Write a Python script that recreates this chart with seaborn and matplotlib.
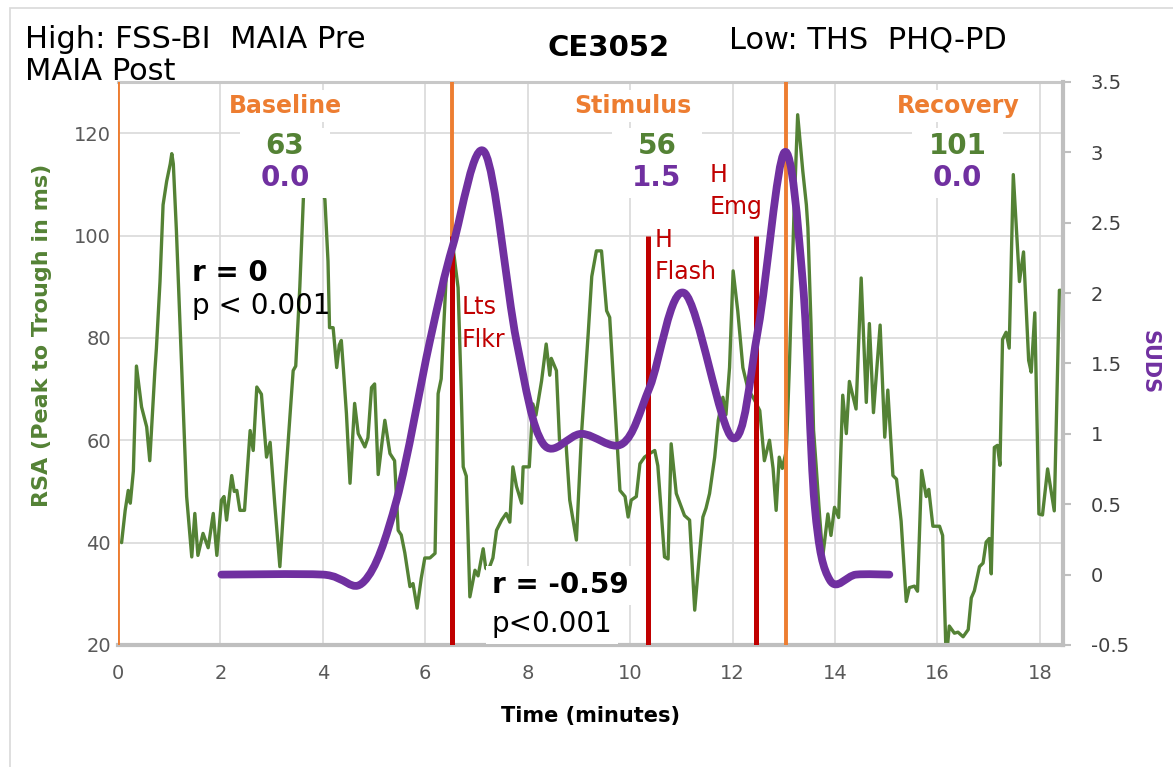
import numpy as np
import pandas as pd
import matplotlib
matplotlib.use("Agg")
import matplotlib.pyplot as plt
from matplotlib.path import Path
from matplotlib.patches import PathPatch, Rectangle
import seaborn as sns

# ---------------------------------------------------------------- data
# RSA, peak to trough (ms), over the session (minutes)
rsa_time = [0.07, 0.14, 0.2, 0.24, 0.3, 0.36, 0.46, 0.56, 0.62, 0.72, 0.75, 0.82,
            0.88, 0.95, 1.02, 1.05, 1.08, 1.14, 1.24, 1.34, 1.44, 1.5, 1.56, 1.66,
            1.76, 1.86, 1.93, 2.02, 2.07, 2.12, 2.22, 2.27, 2.32, 2.38, 2.47, 2.58,
            2.64, 2.71, 2.8, 2.9, 2.97, 3.06, 3.16, 3.26, 3.42, 3.47, 3.55, 3.62,
            3.75, 3.9, 4.04, 4.1, 4.13, 4.2, 4.27, 4.32, 4.36, 4.4, 4.46, 4.53,
            4.62, 4.69, 4.82, 4.88, 4.95, 5.01, 5.08, 5.16, 5.21, 5.31, 5.4, 5.47,
            5.53, 5.6, 5.7, 5.76, 5.84, 5.92, 5.99, 6.09, 6.19, 6.25, 6.31, 6.41,
            6.48, 6.55, 6.64, 6.7, 6.74, 6.8, 6.87, 6.97, 7.03, 7.13, 7.18, 7.23,
            7.32, 7.39, 7.49, 7.58, 7.65, 7.71, 7.78, 7.88, 7.91, 8.03, 8.1, 8.16,
            8.27, 8.36, 8.43, 8.46, 8.56, 8.62, 8.75, 8.82, 8.95, 9.05, 9.18, 9.25,
            9.34, 9.44, 9.54, 9.6, 9.8, 9.9, 9.96, 10.02, 10.12, 10.19, 10.28, 10.38,
            10.48, 10.54, 10.67, 10.74, 10.8, 10.9, 10.96, 11.06, 11.16, 11.26, 11.36, 11.42,
            11.48, 11.55, 11.65, 11.72, 11.81, 11.87, 11.94, 12.01, 12.1, 12.2, 12.3, 12.42,
            12.53, 12.62, 12.72, 12.79, 12.85, 12.91, 12.97, 13.05, 13.11, 13.2, 13.27, 13.37,
            13.44, 13.47, 13.53, 13.58, 13.63, 13.7, 13.76, 13.86, 13.92, 13.99, 14.07, 14.15,
            14.22, 14.28, 14.41, 14.51, 14.61, 14.67, 14.75, 14.88, 14.97, 15.03, 15.13, 15.2,
            15.29, 15.39, 15.45, 15.55, 15.61, 15.69, 15.78, 15.83, 15.91, 16.04, 16.1, 16.17,
            16.23, 16.33, 16.4, 16.5, 16.6, 16.66, 16.72, 16.82, 16.89, 16.95, 17.01, 17.05,
            17.11, 17.17, 17.22, 17.27, 17.34, 17.4, 17.48, 17.6, 17.68, 17.78, 17.83, 17.9,
            17.98, 18.05, 18.15, 18.28, 18.38, 18.44]
rsa_value = [40, 46.3, 50.2, 47.7, 54, 74.5, 66.5, 62.6, 56, 73.6, 78, 91,
             106, 110.6, 114, 116, 114, 101, 75, 49, 37.2, 45.7, 37.5, 41.8,
             39, 45.7, 37.5, 48.3, 49, 44.4, 53.1, 50, 50.2, 46.3, 46.3, 61.9,
             58, 70.4, 69, 56.7, 59.6, 47.6, 35.3, 50.9, 73.6, 74.5, 90, 107.4,
             117, 113, 107, 95, 82, 82, 74.2, 78.6, 79.5, 74, 65.2, 51.6,
             67.2, 61.3, 58.7, 60.5, 70.3, 71, 53.3, 60, 63.9, 57.4, 56, 42.4,
             41.5, 38, 31.4, 32, 27.2, 33, 37, 37, 37.9, 69.1, 72, 92.5,
             95, 97, 89.8, 70, 54.8, 53, 29.4, 34.6, 33.5, 38.8, 35, 34.6,
             37, 42.4, 44.4, 45.7, 44, 54.8, 51, 47.7, 54.8, 54.8, 67.1, 64.9,
             71.6, 78.8, 72.7, 76, 73.6, 60, 59, 48.3, 40.5, 61.3, 80.8, 92,
             97, 97, 85.3, 84, 50.2, 49, 45, 48.3, 49, 55.4, 56.7, 57.4,
             58, 55, 37.2, 36.8, 59.3, 49.6, 48, 45.3, 44.4, 26.8, 38.5, 45,
             46.7, 49.6, 56.7, 63.9, 68.4, 65, 74.2, 93.1, 85.3, 74.2, 70, 68,
             65.8, 56, 60, 54.5, 46.3, 56.7, 54.5, 58, 75, 105, 123.6, 112.6,
             106, 101.5, 82.8, 62, 55.1, 45, 37.3, 45.6, 41.4, 46.9, 44.9, 68.8,
             61.3, 71.5, 66.1, 91.7, 67.4, 82.8, 65.4, 82.5, 60.6, 69.8, 53.1, 52.4,
             44.2, 28.5, 31.2, 31.5, 30.5, 54.1, 49, 50.4, 43.2, 43.2, 41.4, 17,
             23.7, 22.3, 22.5, 21.6, 23, 29.2, 30.6, 35.3, 36, 40.1, 40.8, 33.9,
             58.6, 59, 55.1, 79.7, 81.1, 78, 111.9, 91, 96.8, 75.6, 73.3, 84.9,
             45.6, 45.4, 54.4, 46.2, 89.3, 89.3]

# SUDS ratings (drawn as a smoothed line)
suds_time = [2.02, 4.0, 4.8, 5.44, 6.09, 6.54, 7.16, 7.78, 8.3, 9.05, 9.85,
             10.38, 11.06, 12.0, 12.5, 13.01, 13.37, 13.6, 13.9, 14.41, 15.06]
suds_value = [0.0, 0.0, -0.05, 0.53, 1.66, 2.34, 3.0, 1.66, 0.93, 1.0, 0.93,
              1.33, 2.0, 0.97, 1.75, 3.0, 2.08, 0.5, -0.04, 0.0, 0.0]

# session phases and their summary values
phase_starts = [0.0, 6.53, 13.05]
phase_names = ["Baseline", "Stimulus", "Recovery"]
phase_rsa_mean = ["63", "56", "101"]
phase_suds_mean = ["0.0", "1.5", "0.0"]

# stimulus events
event_times = [6.53, 10.35, 12.46]
event_labels = ["Lts\nFlkr", "H\nFlash", "H\nEmg"]
event_height = 100

x_ticks = [0, 2, 4, 6, 8, 10, 12, 14, 16, 18]
rsa_ticks = [20, 40, 60, 80, 100, 120]
suds_ticks = [-0.5, 0, 0.5, 1, 1.5, 2, 2.5, 3, 3.5]
suds_tick_labels = ["-0.5", "0", "0.5", "1", "1.5", "2", "2.5", "3", "3.5"]

# ---------------------------------------------------------------- style
GREEN = "#548235"
PURPLE = "#7030A0"
ORANGE = "#ED7D31"
RED = "#C00000"
GRID = "#D9D9D9"
AXIS = "#BFBFBF"

sns.set_theme(style="white")
plt.rcParams["font.family"] = ["DejaVu Sans"]
plt.rcParams["text.color"] = "black"

fig = plt.figure(figsize=(11.73, 7.67), dpi=100)
ax = fig.add_axes([0.1006, 0.1591, 0.8056, 0.734])
ax2 = ax.twinx()

ax.set_xlim(0, 18.45)
ax.set_ylim(20, 130)
ax2.set_ylim(-0.5, 3.5)

# gridlines
ax.set_xticks(x_ticks)
ax.set_yticks(rsa_ticks)
ax.grid(True, color=GRID, lw=1.2)
ax.set_axisbelow(True)
ax2.grid(False)

# RSA series
rsa_df = pd.DataFrame({"time": rsa_time, "rsa": rsa_value})
sns.lineplot(data=rsa_df, x="time", y="rsa", ax=ax, color=GREEN, lw=2.4,
             estimator=None, sort=False, zorder=2)

# phase boundaries and event markers
for t in phase_starts:
    ax.axvline(t, color=ORANGE, lw=2.8, zorder=3)
ax.vlines(event_times, 20, event_height, color=RED, lw=3.6, zorder=4)

# SUDS smoothed line as cubic Bezier segments through the ratings
pts = np.column_stack([suds_time, suds_value])
n = len(pts)
verts = [tuple(pts[0])]
codes = [Path.MOVETO]
for i in range(n - 1):
    p0 = pts[max(i - 1, 0)]
    p1 = pts[i]
    p2 = pts[i + 1]
    p3 = pts[min(i + 2, n - 1)]
    c1 = p1 + (p2 - p0) / 6.0
    c2 = p2 - (p3 - p1) / 6.0
    verts += [tuple(c1), tuple(c2), tuple(p2)]
    codes += [Path.CURVE4] * 3
suds_patch = PathPatch(Path(verts, codes), transform=ax2.transData, fill=False,
                       edgecolor=PURPLE, lw=5.6, capstyle="round",
                       joinstyle="round", zorder=5)
ax2.add_patch(suds_patch)

# ---------------------------------------------------------------- axes
ax.tick_params(axis="x", length=0, pad=14, labelsize=14, labelcolor="#595959")
ax.tick_params(axis="y", length=0, pad=5, labelsize=14, labelcolor="#595959")
ax2.set_yticks(suds_ticks)
ax2.set_yticklabels(suds_tick_labels)
ax2.tick_params(axis="y", length=6, width=1.5, color=AXIS, pad=14,
                labelsize=14, labelcolor="#404040")

for side in ["left", "right"]:
    ax.spines[side].set_visible(False)
for side in ["left", "top", "bottom"]:
    ax2.spines[side].set_visible(False)
ax.spines["bottom"].set_color(AXIS)
ax.spines["bottom"].set_linewidth(3)
ax.spines["top"].set_color("#C8C8C8")
ax.spines["top"].set_linewidth(2.2)
ax2.spines["right"].set_color(AXIS)
ax2.spines["right"].set_linewidth(3)

ax.set_xlabel("Time (minutes)", fontsize=15, fontweight="bold", color="black",
              va="center")
ax.xaxis.set_label_coords(0.4995, -0.126)
ax.set_ylabel("RSA (Peak to Trough in ms)", fontsize=16, fontweight="bold",
              color=GREEN, va="center")
ax.yaxis.set_label_coords(-0.0804, 0.5506)
ax2.set_ylabel("SUDS", fontsize=15, fontweight="bold", color=PURPLE,
               rotation=270, va="center")
ax2.yaxis.set_label_coords(1.092, 0.5027)

# ---------------------------------------------------------------- labels
label_x = [3.26, 10.05, 16.41]
value_x = [3.26, 10.52, 16.39]
box_half_width = 0.88
for name, lx, vx, r_mean, s_mean in zip(phase_names, label_x, value_x,
                                        phase_rsa_mean, phase_suds_mean):
    ax2.add_patch(Rectangle((vx - box_half_width, 107.3), 2 * box_half_width,
                            13.8, transform=ax.transData, facecolor="white",
                            edgecolor="none", zorder=5.5))
    ax2.text(lx, 125.3, name, transform=ax.transData, ha="center", va="center",
             color=ORANGE, fontsize=17, fontweight="bold",
             bbox=dict(facecolor="white", edgecolor="none", pad=3), zorder=6)
    ax2.text(vx, 117.5, r_mean, transform=ax.transData, ha="center",
             va="center", color=GREEN, fontsize=20, fontweight="bold",
             zorder=6)
    ax2.text(vx, 111.2, s_mean, transform=ax.transData, ha="center",
             va="center", color=PURPLE, fontsize=20, fontweight="bold",
             zorder=6)

event_text_pos = [(6.71, 82.8), (10.48, 96.0), (11.55, 108.7)]
for lbl, (tx, ty) in zip(event_labels, event_text_pos):
    ax2.text(tx, ty, lbl, transform=ax.transData, ha="left", va="center",
             color=RED, fontsize=17, linespacing=1.45, zorder=6)

white_box = dict(facecolor="white", edgecolor="none", pad=4)
ax2.text(1.44, 92.7, "r = 0", transform=ax.transData, ha="left", va="center",
         fontsize=20, fontweight="bold", color="black", zorder=6)
ax2.text(1.44, 86.3, "p < 0.001", transform=ax.transData, ha="left",
         va="center", fontsize=20, color="black", zorder=6)
ax2.text(7.3, 31.7, "r = -0.59", transform=ax.transData, ha="left",
         va="center", fontsize=20, fontweight="bold", color="black",
         bbox=white_box, zorder=6)
ax2.text(7.3, 24.1, "p<0.001", transform=ax.transData, ha="left",
         va="center", fontsize=20, color="black", bbox=white_box, zorder=6)

# header
fig.text(25 / 1173, 1 - 40 / 767, "High: FSS-BI  MAIA Pre", ha="left",
         va="center", fontsize=22, color="black")
fig.text(25 / 1173, 1 - 72 / 767, "MAIA Post", ha="left", va="center",
         fontsize=22, color="black")
fig.text(609 / 1173, 1 - 48 / 767, "CE3052", ha="center", va="center",
         fontsize=21, fontweight="bold", color="black")
fig.text(729 / 1173, 1 - 40 / 767, "Low: THS  PHQ-PD", ha="left", va="center",
         fontsize=22, color="black")

# chart frame
fig.patches.append(Rectangle((10 / 1173, -0.05), 1.1, 1 - 8 / 767 + 0.05,
                             transform=fig.transFigure, fill=False,
                             edgecolor="#D9D9D9", lw=1.2, zorder=0))

fig.savefig("out.png", dpi=100)
